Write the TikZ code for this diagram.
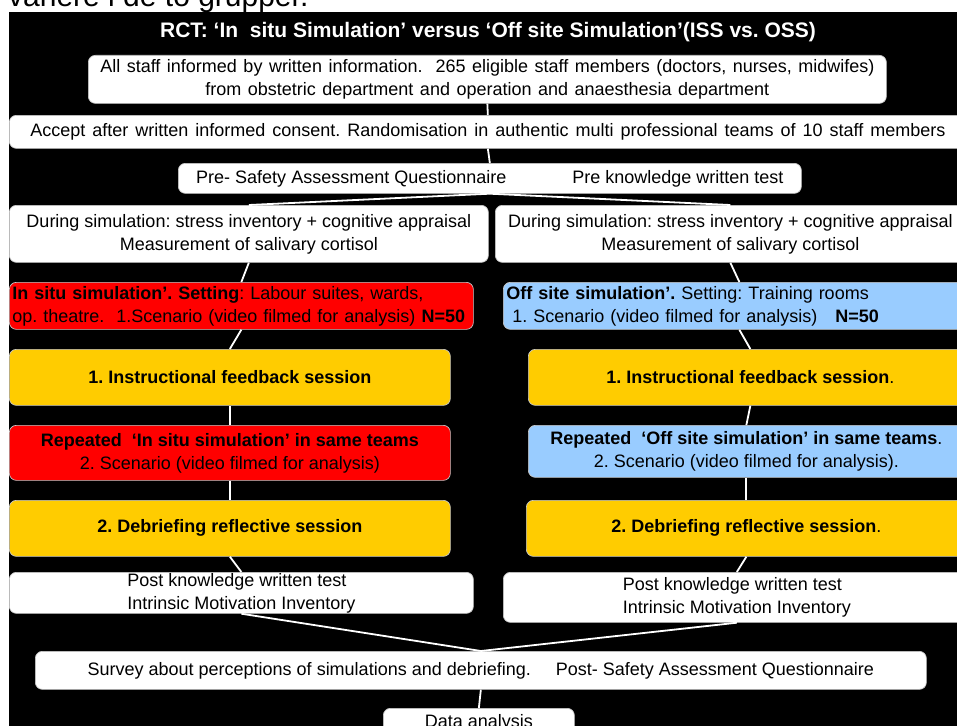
\documentclass[tikz,border=0pt]{standalone}
\usepackage{fontspec}
\setmainfont{Liberation Sans}
\definecolor{ycol}{HTML}{FFCC00}
\definecolor{bcol}{HTML}{99CCFF}
\newcommand\myWideA{\spaceskip 6.5pt\relax}
\newcommand\myWideB{\spaceskip 7pt\relax}
\begin{document}
\frenchspacing
\begin{tikzpicture}[x=1pt,y=-1pt,
  box/.style={draw=gray!45, line width=0.7pt, rounded corners=7pt, anchor=north west,
    inner xsep=3pt, inner ysep=0pt, font=\fontsize{18}{23}\selectfont, text=black},
  wbox/.style={box, fill=white},
  rbox/.style={box, fill=red},
  ybox/.style={box, fill=ycol},
  bbox/.style={box, fill=bcol},
  conn/.style={draw=white, line width=1.8pt}]
\useasboundingbox (0,0) rectangle (957,725);
\clip (0,0) rectangle (957,725);
\node[anchor=base west, font=\fontsize{30}{30}\selectfont, inner sep=0pt] (head) at (8,7) {vanere i de to grupper.};
\fill[black] (9,12) rectangle (990,740);
\node[font=\fontsize{21}{24}\selectfont\bfseries, text=white] (title) at (488,32)
  {RCT: ‘In\ \ situ Simulation’ versus ‘Off site Simulation’(ISS vs. OSS)};
\node[wbox, minimum width=798, minimum height=48, align=center,
  font=\fontsize{18}{23}\selectfont\myWideA] (box1) at (88,55)
  {All staff informed by written information.\ \ 265 eligible staff members (doctors, nurses, midwifes)\\from obstetric department and operation and anaesthesia department};
\node[wbox, minimum width=957, minimum height=33,
  font=\fontsize{18}{23}\selectfont\myWideB] (box2) at (9,115)
  {Accept after written informed consent. Randomisation in authentic multi professional teams of 10 staff members};
\node[wbox, minimum width=623, minimum height=30] (box3) at (178,163)
  {Pre- Safety Assessment Questionnaire\hspace{66pt}Pre knowledge written test};
\node[wbox, minimum width=479, minimum height=57, align=center] (dl) at (9,205)
  {During simulation: stress inventory + cognitive appraisal\\Measurement of salivary cortisol};
\node[wbox, minimum width=470, minimum height=57, align=center] (dr) at (495,205)
  {During simulation: stress inventory + cognitive appraisal\\Measurement of salivary cortisol};
\node[rbox, text width=458, minimum height=47, align=left] (red1) at (9,282)
  {\mbox{\textbf{In situ simulation’. Setting}: Labour suites, wards,}\\\mbox{op. theatre.\ \ 1.Scenario (video filmed for analysis) \textbf{N=50}}};
\node[bbox, text width=466, minimum height=47, align=left] (blue1) at (503,282)
  {\mbox{\textbf{Off site simulation’.} Setting: Training rooms}\\\mbox{\ 1. Scenario (video filmed for analysis)\ \ \ \textbf{N=50}}};
\node[ybox, minimum width=441, minimum height=56] (yel1) at (9,349)
  {\textbf{1. Instructional feedback session}};
\node[ybox, minimum width=444, minimum height=56] (yel1r) at (528,349)
  {\textbf{1. Instructional feedback session}.};
\node[rbox, minimum width=441, minimum height=55, align=center] (red2) at (9,425)
  {\textbf{Repeated\ \ ‘In situ simulation’ in same teams}\\2. Scenario (video filmed for analysis)};
\node[bbox, minimum width=436, minimum height=52, align=center] (blue2) at (528,425)
  {\textbf{Repeated\ \ ‘Off site simulation’ in same teams}.\\2. Scenario (video filmed for analysis).};
\node[ybox, minimum width=441, minimum height=56] (yel2) at (9,500)
  {\textbf{2. Debriefing reflective session}};
\node[ybox, minimum width=440, minimum height=56] (yel2r) at (526,500)
  {\textbf{2. Debriefing reflective session}.};
\node[wbox, minimum width=464, minimum height=41, align=left] (postl) at (9,572)
  {Post knowledge written test\\Intrinsic Motivation Inventory};
\node[wbox, minimum width=467, minimum height=50, align=left] (postr) at (503,572)
  {Post knowledge written test\\Intrinsic Motivation Inventory};
\node[wbox, minimum width=891, minimum height=38] (survey) at (35,651)
  {Survey about perceptions of simulations and debriefing.\hspace{25pt}Post- Safety Assessment Questionnaire};
\node[wbox, minimum width=191, minimum height=28] (data) at (383,708)
  {Data analysis};
\draw[conn] (box1.south) -- (box2.north);
\draw[conn] (box2.south) -- (box3.north);
\draw[conn] (box3.south) -- (dl.north);
\draw[conn] (box3.south) -- (dr.north);
\draw[conn] (dl.south) -- (red1.north);
\draw[conn] (dr.south) -- (blue1.north);
\draw[conn] (red1.south) -- (yel1.north);
\draw[conn] (blue1.south) -- (yel1r.north);
\draw[conn] (yel1.south) -- (red2.north);
\draw[conn] (yel1r.south) -- (blue2.north);
\draw[conn] (red2.south) -- (yel2.north);
\draw[conn] (blue2.south) -- (yel2r.north);
\draw[conn] (yel2.south) -- (postl.north);
\draw[conn] (yel2r.south) -- (postr.north);
\draw[conn] (postl.south) -- (survey.north);
\draw[conn] (postr.south) -- (survey.north);
\draw[conn] (survey.south) -- (data.north);
\end{tikzpicture}
\end{document}
